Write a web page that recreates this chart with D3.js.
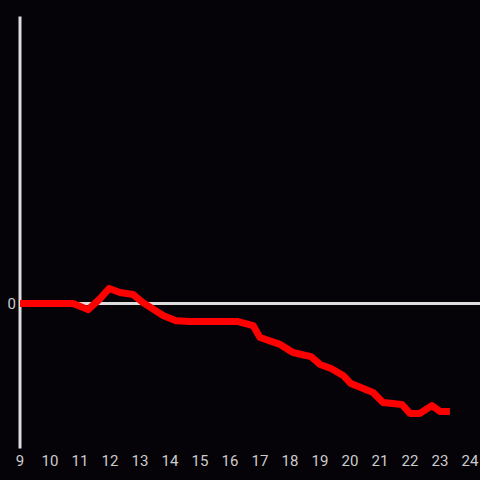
<!DOCTYPE html>
<html><head><meta charset="utf-8">
<script src="https://cdn.jsdelivr.net/npm/d3@7"></script>
<style>html,body{margin:0;padding:0;background:#050308;}svg{display:block;}</style>
</head><body>
<svg id="c" width="480" height="480"></svg>
<script>
const xs = [9,10.77,11.27,11.67,11.97,12.33,12.77,13.1,13.77,14.2,14.67,16.27,16.77,17.0,17.67,18.1,18.7,19.0,19.37,19.77,20.03,20.77,21.1,21.73,22.0,22.33,22.73,23.0,23.33];
const ys = [0,0,-0.21,0.17,0.52,0.38,0.31,0.03,-0.41,-0.59,-0.62,-0.62,-0.76,-1.17,-1.41,-1.69,-1.83,-2.1,-2.24,-2.48,-2.76,-3.07,-3.41,-3.48,-3.79,-3.79,-3.52,-3.72,-3.72];
const xTicks = [9,10,11,12,13,14,15,16,17,18,19,20,21,22,23,24];
const yTicks = [0];

const svg = d3.select("#c");
svg.append("rect").attr("width",480).attr("height",480).attr("fill","#050308");
const x = d3.scaleLinear().domain([9,24]).range([20,470]);
const y = d3.scaleLinear().domain([-5,9.9]).range([448.5,16.5]);

svg.append("line").attr("x1",x(9)).attr("x2",480).attr("y1",y(0)).attr("y2",y(0))
  .attr("stroke","#dddddd").attr("stroke-width",3);
svg.append("line").attr("x1",x(9)).attr("x2",x(9)).attr("y1",y(-5)).attr("y2",y(9.9))
  .attr("stroke","#dddddd").attr("stroke-width",3);

svg.append("g").selectAll("text").data(xTicks).join("text")
  .attr("x",d=>x(d)).attr("y",466).attr("text-anchor","middle")
  .attr("fill","#cccccc").attr("font-family","Roboto, sans-serif").attr("font-size",15)
  .text(d=>d);
svg.append("g").selectAll("text").data(yTicks).join("text")
  .attr("x",16).attr("y",d=>y(d)).attr("dy","0.35em").attr("text-anchor","end")
  .attr("fill","#cccccc").attr("font-family","Roboto, sans-serif").attr("font-size",15)
  .text(d=>d);

const data = xs.map((v,i)=>[v,ys[i]]);
svg.append("path").datum(data)
  .attr("d", d3.line().x(d=>x(d[0])).y(d=>y(d[1])))
  .attr("fill","none").attr("stroke","#ff0000").attr("stroke-width",7)
  .attr("stroke-linejoin","round").attr("stroke-linecap","butt");
</script>
</body></html>
